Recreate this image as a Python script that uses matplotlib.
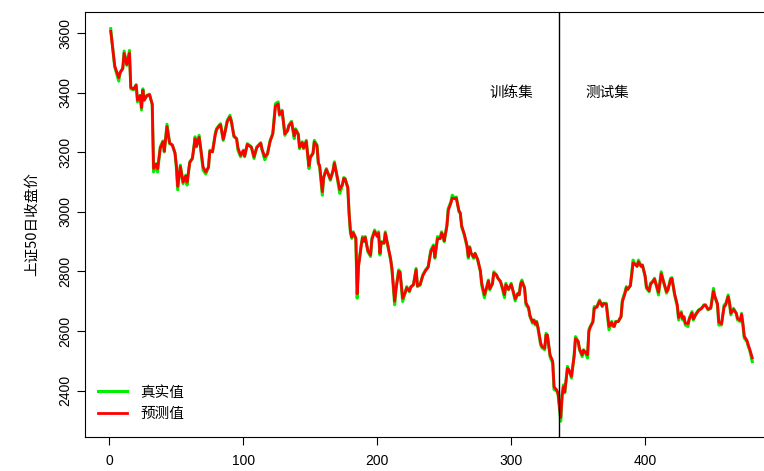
import matplotlib
matplotlib.use("Agg")
import matplotlib.pyplot as plt

plt.rcParams['font.family'] = ['Liberation Sans', 'Noto Sans CJK SC', 'DejaVu Sans']

# trading day index
day = [1, 4, 7, 8, 10, 11, 13, 15, 16, 18, 20, 21, 23, 24, 25, 26, 28, 30, 32, 33,
       35, 36, 38, 40, 41, 43, 45, 47, 49, 50, 51, 53, 55, 57, 58, 60, 62, 64, 65, 67,
       68, 70, 72, 74, 75, 77, 79, 80, 82, 83, 85, 86, 88, 90, 91, 93, 95, 96, 98, 100,
       101, 103, 106, 108, 110, 113, 114, 116, 118, 120, 122, 124, 126, 127, 129, 131, 133, 134, 136, 138,
       139, 141, 142, 144, 145, 147, 149, 150, 152, 153, 155, 156, 157, 159, 160, 162, 165, 167, 168, 170,
       172, 174, 175, 176, 178, 179, 180, 181, 182, 184, 185, 186, 188, 189, 190, 191, 193, 195, 196, 198,
       200, 201, 202, 203, 205, 206, 208, 210, 211, 213, 214, 216, 217, 219, 221, 222, 224, 225, 227, 229,
       230, 232, 234, 236, 238, 240, 242, 243, 245, 247, 248, 249, 250, 252, 253, 255, 256, 258, 259, 261,
       262, 263, 265, 267, 268, 269, 270, 272, 273, 275, 277, 278, 280, 282, 283, 284, 286, 287, 289, 290,
       292, 293, 295, 296, 298, 300, 302, 303, 305, 306, 307, 308, 310, 311, 313, 314, 316, 317, 318, 319,
       320, 322, 323, 325, 326, 327, 329, 331, 332, 334, 335, 336, 337, 338, 339, 340, 342, 343, 345, 347,
       348, 350, 351, 353, 354, 355, 357, 358, 359, 361, 362, 364, 366, 368, 369, 371, 372, 373, 375, 376,
       377, 378, 380, 381, 382, 383, 385, 386, 387, 389, 391, 392, 394, 395, 397, 398, 400, 401, 403, 404,
       406, 407, 409, 410, 412, 414, 416, 417, 419, 420, 422, 424, 425, 427, 428, 429, 430, 432, 433, 435,
       436, 438, 440, 442, 444, 445, 447, 449, 451, 452, 454, 455, 457, 459, 460, 462, 463, 464, 466, 468,
       469, 471, 472, 473, 474, 476, 477, 478, 480]

# true close
close = [3615, 3486, 3439, 3469, 3480, 3540, 3492, 3542, 3413, 3410, 3427, 3369, 3391, 3342, 3413, 3374, 3391, 3395, 3359, 3134,
         3162, 3134, 3218, 3238, 3201, 3294, 3229, 3225, 3196, 3151, 3074, 3157, 3095, 3123, 3090, 3168, 3179, 3252, 3218, 3257,
         3218, 3140, 3127, 3151, 3207, 3201, 3262, 3279, 3291, 3296, 3240, 3262, 3307, 3324, 3307, 3252, 3246, 3207, 3185, 3207,
         3185, 3229, 3218, 3179, 3218, 3232, 3207, 3175, 3193, 3240, 3262, 3363, 3369, 3324, 3341, 3257, 3274, 3291, 3304, 3246,
         3279, 3262, 3212, 3235, 3212, 3240, 3145, 3185, 3196, 3240, 3224, 3162, 3151, 3056, 3118, 3145, 3106, 3140, 3168, 3118,
         3062, 3090, 3115, 3112, 3080, 2990, 2928, 2911, 2933, 2911, 2710, 2822, 2889, 2917, 2900, 2917, 2866, 2850, 2911, 2939,
         2917, 2933, 2855, 2900, 2894, 2933, 2883, 2838, 2805, 2688, 2743, 2805, 2799, 2699, 2732, 2749, 2732, 2749, 2754, 2810,
         2749, 2754, 2788, 2805, 2816, 2872, 2889, 2844, 2917, 2911, 2933, 2922, 2900, 2956, 3011, 3034, 3056, 3045, 3050, 3000,
         2995, 2950, 2922, 2883, 2844, 2883, 2861, 2844, 2861, 2838, 2799, 2754, 2712, 2754, 2771, 2738, 2760, 2799, 2788, 2777,
         2766, 2749, 2712, 2760, 2738, 2760, 2721, 2701, 2727, 2721, 2760, 2771, 2743, 2688, 2676, 2648, 2626, 2637, 2620, 2632,
         2609, 2553, 2544, 2537, 2592, 2587, 2514, 2492, 2403, 2399, 2386, 2342, 2297, 2386, 2419, 2392, 2481, 2470, 2442, 2520,
         2581, 2565, 2537, 2514, 2537, 2531, 2509, 2604, 2615, 2632, 2682, 2682, 2704, 2682, 2693, 2693, 2648, 2604, 2632, 2615,
         2615, 2632, 2632, 2641, 2648, 2704, 2732, 2749, 2738, 2754, 2838, 2827, 2816, 2838, 2816, 2822, 2782, 2743, 2732, 2760,
         2769, 2777, 2740, 2721, 2799, 2760, 2727, 2738, 2777, 2779, 2721, 2682, 2637, 2665, 2637, 2648, 2620, 2615, 2643, 2665,
         2637, 2659, 2671, 2676, 2688, 2688, 2671, 2676, 2743, 2715, 2688, 2620, 2620, 2688, 2688, 2721, 2693, 2654, 2676, 2659,
         2637, 2632, 2659, 2620, 2576, 2565, 2548, 2537, 2497]

# model prediction
pred = [3606, 3490, 3450, 3467, 3482, 3532, 3495, 3533, 3418, 3412, 3425, 3375, 3390, 3350, 3408, 3376, 3390, 3393, 3362, 3146,
        3160, 3145, 3214, 3235, 3204, 3286, 3231, 3224, 3198, 3155, 3086, 3152, 3100, 3120, 3100, 3165, 3180, 3245, 3220, 3250,
        3220, 3150, 3134, 3150, 3203, 3202, 3257, 3276, 3289, 3292, 3244, 3260, 3303, 3318, 3305, 3255, 3245, 3215, 3190, 3205,
        3188, 3226, 3217, 3185, 3215, 3230, 3210, 3185, 3195, 3236, 3262, 3355, 3362, 3327, 3338, 3262, 3272, 3289, 3300, 3255,
        3275, 3260, 3217, 3232, 3215, 3236, 3155, 3182, 3196, 3234, 3222, 3166, 3155, 3068, 3115, 3142, 3110, 3138, 3163, 3120,
        3075, 3092, 3112, 3110, 3082, 2995, 2935, 2915, 2930, 2912, 2725, 2815, 2885, 2912, 2902, 2914, 2870, 2855, 2907, 2934,
        2918, 2928, 2862, 2898, 2895, 2928, 2885, 2842, 2808, 2700, 2740, 2800, 2797, 2710, 2730, 2745, 2734, 2746, 2756, 2805,
        2752, 2756, 2786, 2802, 2814, 2866, 2884, 2848, 2910, 2910, 2928, 2922, 2903, 2952, 3005, 3030, 3046, 3044, 3046, 3004,
        2996, 2953, 2925, 2887, 2850, 2880, 2862, 2848, 2860, 2840, 2802, 2760, 2722, 2750, 2768, 2742, 2758, 2794, 2788, 2778,
        2766, 2752, 2722, 2755, 2740, 2756, 2725, 2708, 2725, 2722, 2755, 2765, 2745, 2695, 2678, 2652, 2630, 2636, 2624, 2630,
        2612, 2560, 2548, 2542, 2586, 2586, 2520, 2498, 2412, 2402, 2390, 2350, 2310, 2380, 2412, 2396, 2474, 2470, 2448, 2515,
        2574, 2565, 2540, 2520, 2535, 2530, 2520, 2598, 2612, 2630, 2676, 2680, 2700, 2684, 2692, 2690, 2652, 2615, 2628, 2618,
        2616, 2630, 2632, 2640, 2648, 2698, 2726, 2745, 2740, 2752, 2828, 2826, 2818, 2832, 2818, 2820, 2785, 2748, 2735, 2756,
        2767, 2774, 2744, 2730, 2792, 2762, 2732, 2738, 2772, 2776, 2725, 2688, 2645, 2660, 2642, 2647, 2626, 2625, 2640, 2660,
        2640, 2656, 2669, 2675, 2686, 2687, 2673, 2677, 2733, 2717, 2692, 2630, 2624, 2682, 2686, 2715, 2695, 2660, 2672, 2660,
        2642, 2636, 2655, 2625, 2583, 2568, 2553, 2540, 2510]

split_day = 336

fig = plt.figure(figsize=(7.64, 4.71), dpi=100)
ax = fig.add_axes([85 / 764, 34 / 471, 693 / 764, 425 / 471])

ax.plot(day, close, color='#00ee00', lw=2.2, label='真实值')
ax.plot(day, pred, color='#ff0000', lw=2.0, label='预测值')
ax.axvline(split_day, color='black', lw=1)

ax.text(300, 3400, '训练集', ha='center', va='center', fontsize=10.5,
        family=['Noto Sans CJK SC', 'DejaVu Sans'])
ax.text(372, 3400, '测试集', ha='center', va='center', fontsize=10.5,
        family=['Noto Sans CJK SC', 'DejaVu Sans'])

ax.set_xlim(-18.2, 499.2)
ax.set_ylim(2244, 3671)
ax.set_xticks([0, 100, 200, 300, 400])
ax.set_yticks([2400, 2600, 2800, 3000, 3200, 3400, 3600])
ax.tick_params(direction='out', length=6, width=0.8, labelsize=10, pad=6)
ax.tick_params(axis='y', pad=3)
for lbl in ax.get_yticklabels():
    lbl.set_rotation(90)
    lbl.set_va('center')
for s in ax.spines.values():
    s.set_linewidth(0.8)

ax.set_ylabel('上证50日收盘价', fontsize=10.5, labelpad=14,
              family=['Noto Sans CJK SC', 'DejaVu Sans'])

leg = ax.legend(loc='upper left', bbox_to_anchor=(0.0, 0.152), frameon=False,
                handlelength=2.0, handletextpad=0.9, labelspacing=0.5,
                prop={'family': ['Noto Sans CJK SC', 'DejaVu Sans'], 'size': 10.5})

fig.savefig('out.png', dpi=100)
